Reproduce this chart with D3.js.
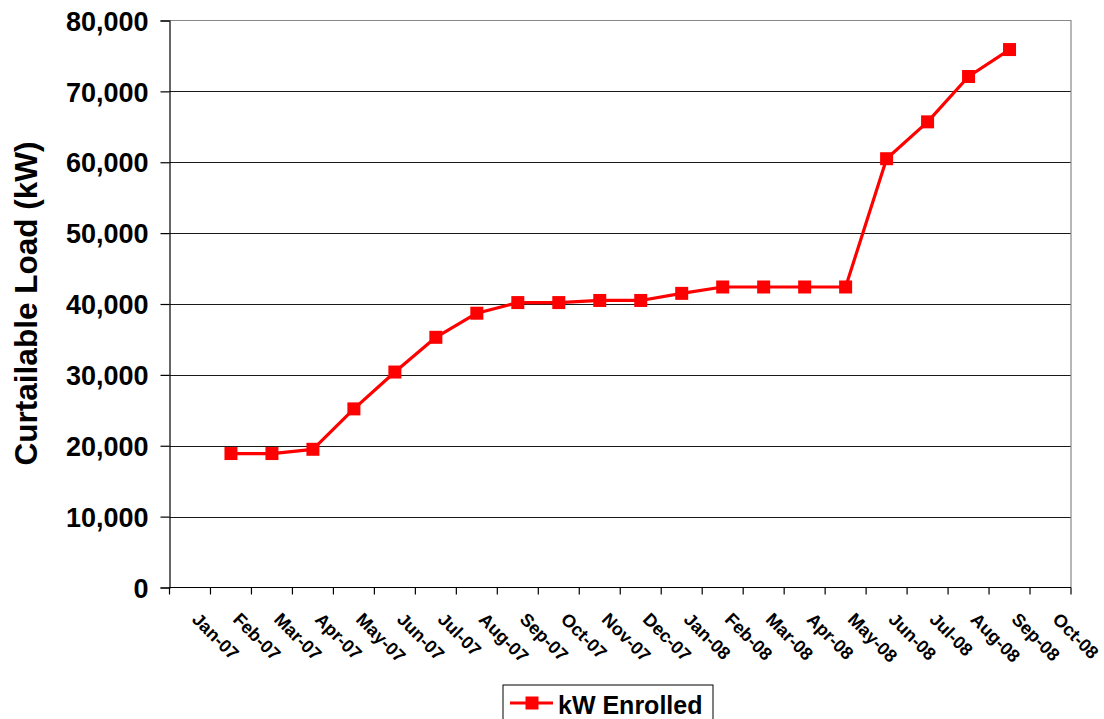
<!DOCTYPE html>
<html>
<head>
<meta charset="utf-8">
<script src="https://cdn.jsdelivr.net/npm/d3@7"></script>
<style>
  html, body { margin: 0; padding: 0; background: #fff; }
  svg { display: block; font-family: "Liberation Sans", Arial, sans-serif; font-weight: bold; }
</style>
</head>
<body>
<svg id="chart" width="1104" height="719"></svg>
<script>
// Monthly category labels on the x axis
const months = ["Jan-07","Feb-07","Mar-07","Apr-07","May-07","Jun-07","Jul-07","Aug-07",
                "Sep-07","Oct-07","Nov-07","Dec-07","Jan-08","Feb-08","Mar-08","Apr-08",
                "May-08","Jun-08","Jul-08","Aug-08","Sep-08","Oct-08"];

// Enrolled curtailable load (kW); null where no value was reported
const kwEnrolled = [null, 18900, 18900, 19500, 25200, 30400, 35300, 38700,
                    40200, 40200, 40500, 40500, 41500, 42400, 42400, 42400,
                    42400, 60500, 65700, 72100, 75900, null];

const yTicks = [0, 10000, 20000, 30000, 40000, 50000, 60000, 70000, 80000];
const seriesName = "kW Enrolled";
const yTitle = "Curtailable Load (kW)";

const svg = d3.select("#chart");
const plot = { left: 169.5, right: 1071, top: 20.5, bottom: 587.5 };

const x = d3.scaleBand().domain(months).range([plot.left, plot.right]).padding(0);
const y = d3.scaleLinear().domain([0, 80000]).range([plot.bottom, plot.top]);
const fmt = d3.format(",");

// Horizontal gridlines
svg.append("g")
  .selectAll("line")
  .data(yTicks.slice(1, -1))
  .join("line")
  .attr("x1", plot.left).attr("x2", plot.right)
  .attr("y1", d => Math.round(y(d)) + 0.5).attr("y2", d => Math.round(y(d)) + 0.5)
  .attr("stroke", "#1a1a1a").attr("stroke-width", 1);

// Plot frame (top and right edges)
svg.append("path")
  .attr("d", `M${plot.left},${plot.top}H${plot.right}V${plot.bottom}`)
  .attr("fill", "none").attr("stroke", "#888").attr("stroke-width", 1.2);

// Y axis
const yAxis = d3.axisLeft(y).tickValues(yTicks).tickFormat(fmt).tickSize(9).tickPadding(12);
const gy = svg.append("g").attr("transform", `translate(${plot.left},0)`).call(yAxis);
gy.select(".domain").attr("stroke", "#000").attr("stroke-width", 1.2);
gy.selectAll(".tick line").attr("stroke", "#000").attr("stroke-width", 1.2);
gy.selectAll(".tick text")
  .attr("font-size", 27).attr("font-weight", "bold").attr("fill", "#000")
  .attr("font-family", "'Liberation Sans', Arial, sans-serif")
  .attr("dy", "0.36em");

// X axis: tick marks at category boundaries, labels rotated below
const gx = svg.append("g").attr("transform", `translate(0,${plot.bottom})`);
gx.append("line")
  .attr("x1", plot.left).attr("x2", plot.right)
  .attr("stroke", "#000").attr("stroke-width", 1.2);
const bounds = months.map(m => x(m)).concat([plot.right]);
gx.selectAll("line.tick")
  .data(bounds)
  .join("line")
  .attr("class", "tick")
  .attr("x1", d => d).attr("x2", d => d)
  .attr("y1", 0).attr("y2", 7)
  .attr("stroke", "#000").attr("stroke-width", 1.2);
gx.selectAll("text")
  .data(months)
  .join("text")
  .attr("transform", d => `translate(${x(d) + x.bandwidth() / 2 + 1},${33}) rotate(45)`)
  .attr("font-size", 18).attr("fill", "#000")
  .text(d => d);

// Y axis title
svg.append("text")
  .attr("transform", `translate(37,${303.5}) rotate(-90)`)
  .attr("text-anchor", "middle")
  .attr("font-size", 31.5).attr("fill", "#000")
  .text(yTitle);

// Series line and markers
const pts = months.map((m, i) => ({ m, v: kwEnrolled[i] })).filter(d => d.v !== null);
const line = d3.line()
  .x(d => x(d.m) + x.bandwidth() / 2)
  .y(d => y(d.v));
svg.append("path")
  .datum(pts)
  .attr("d", line)
  .attr("fill", "none").attr("stroke", "#ff0000").attr("stroke-width", 3.2)
  .attr("stroke-linejoin", "round");

const ms = 13;
svg.append("g")
  .selectAll("rect")
  .data(pts)
  .join("rect")
  .attr("x", d => x(d.m) + x.bandwidth() / 2 - ms / 2)
  .attr("y", d => y(d.v) - ms / 2)
  .attr("width", ms).attr("height", ms)
  .attr("fill", "#ff0000");

// Legend
const lg = svg.append("g");
lg.append("rect")
  .attr("x", 503).attr("y", 685).attr("width", 210).attr("height", 60)
  .attr("fill", "#fff").attr("stroke", "#000").attr("stroke-width", 1);
lg.append("line")
  .attr("x1", 510).attr("x2", 553).attr("y1", 703).attr("y2", 703)
  .attr("stroke", "#ff0000").attr("stroke-width", 3.2);
lg.append("rect")
  .attr("x", 532 - ms / 2).attr("y", 703 - ms / 2).attr("width", ms).attr("height", ms)
  .attr("fill", "#ff0000");
lg.append("text")
  .attr("x", 558).attr("y", 714)
  .attr("font-size", 25).attr("fill", "#000")
  .text(seriesName);
</script>
</body>
</html>
